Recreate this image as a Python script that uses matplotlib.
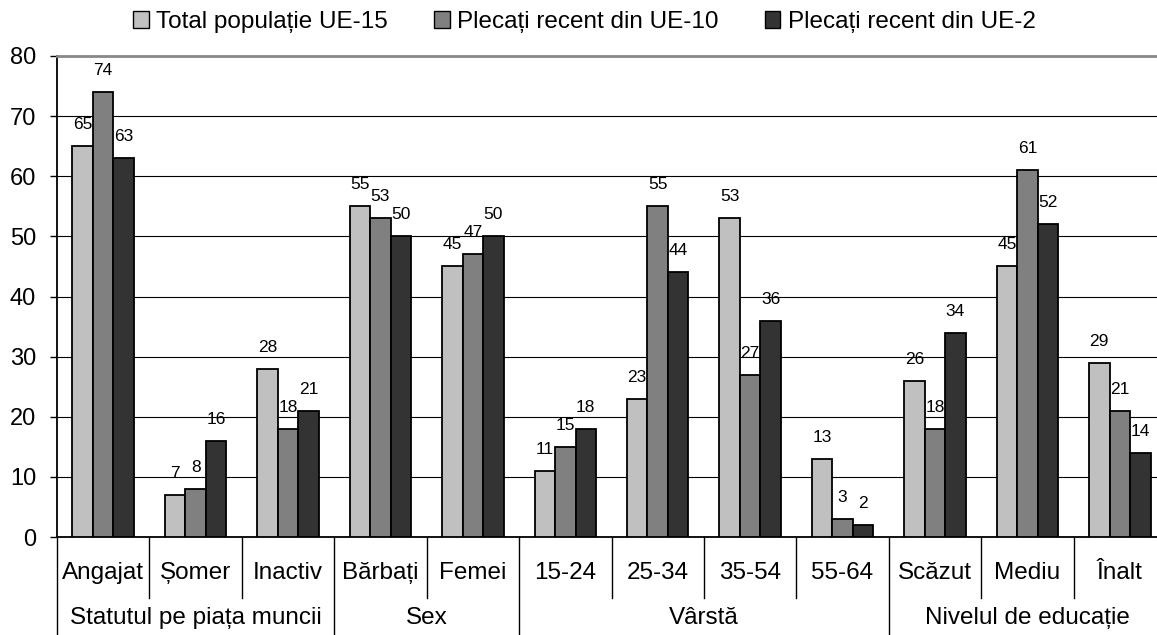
"""
Grouped bar chart: employment status, sex, age and education of recent movers.
"""

import matplotlib.pyplot as plt
import matplotlib.transforms as mtransforms
from matplotlib.patches import Patch
import numpy as np

plt.rcParams["font.family"] = ["Liberation Sans", "DejaVu Sans"]

# data
categories = ["Angajat", "Șomer", "Inactiv", "Bărbați", "Femei",
              "15-24", "25-34", "35-54", "55-64", "Scăzut", "Mediu", "Înalt"]
group_names = ["Statutul pe piața muncii", "Sex", "Vârstă", "Nivelul de educație"]
group_sizes = [3, 2, 4, 3]

series_names = ["Total populație UE-15", "Plecați recent din UE-10", "Plecați recent din UE-2"]
total_ue15 = [65, 7, 28, 55, 45, 11, 23, 53, 13, 26, 45, 29]
recent_ue10 = [74, 8, 18, 53, 47, 15, 55, 27, 3, 18, 61, 21]
recent_ue2 = [63, 16, 21, 50, 50, 18, 44, 36, 2, 34, 52, 14]

colors = ["#c0c0c0", "#808080", "#333333"]
yticks = [0, 10, 20, 30, 40, 50, 60, 70, 80]

# figure
W, H = 1157, 635
fig = plt.figure(figsize=(W / 100, H / 100), dpi=100)
ax = fig.add_axes([57 / W, (H - 537) / H, 1109 / W, 481 / H])

x = np.arange(len(categories))
width = 0.222
for k, (vals, col) in enumerate(zip([total_ue15, recent_ue10, recent_ue2], colors)):
    pos = x + (k - 1) * width
    ax.bar(pos, vals, width=width, color=col, edgecolor="black", linewidth=1.3, zorder=3)
    for xi, v in zip(pos, vals):
        ax.annotate(f"{v}", (xi, v), xytext=(0, 15.5), textcoords="offset points",
                    ha="center", va="center", fontsize=12.5)

# axes styling
ax.set_xlim(-0.5, len(categories) - 0.5)
ax.set_ylim(0, 80)
ax.set_yticks(yticks)
ax.tick_params(axis="y", labelsize=17, length=5, width=1, direction="out", pad=10)
ax.set_xticks([])
ax.yaxis.grid(True, color="black", linewidth=0.8, zorder=0)
ax.set_axisbelow(True)
ax.spines["right"].set_visible(False)
ax.spines["top"].set_color("#888888")
ax.spines["top"].set_linewidth(2)
ax.spines["left"].set_linewidth(1.3)
ax.spines["bottom"].set_linewidth(1.3)

# two-level category axis
trans = mtransforms.blended_transform_factory(ax.transData, ax.transAxes)
for xi, name in zip(x, categories):
    ax.text(xi, -0.075, name, transform=trans, ha="center", va="center", fontsize=17.5)

group_edges = np.cumsum([0] + group_sizes) - 0.5
for i in range(len(categories) + 1):
    xb = i - 0.5
    bottom = -0.21 if np.isclose(group_edges, xb).any() else -0.127
    ax.plot([xb, xb], [0, bottom], color="black", linewidth=1,
            transform=trans, clip_on=False)
for name, lo, hi in zip(group_names, group_edges[:-1], group_edges[1:]):
    ax.text((lo + hi) / 2, -0.168, name, transform=trans, ha="center", va="center",
            fontsize=17.5)

# legend
handles = [Patch(facecolor=c, edgecolor="black", linewidth=1) for c in colors]
fig.legend(handles, series_names, loc="center", bbox_to_anchor=(0.505, 1 - 22 / H),
           ncol=3, frameon=False, fontsize=17.5, handlelength=0.65, handleheight=0.65,
           handletextpad=0.3, columnspacing=1.9)

fig.savefig("out.png", dpi=100)
